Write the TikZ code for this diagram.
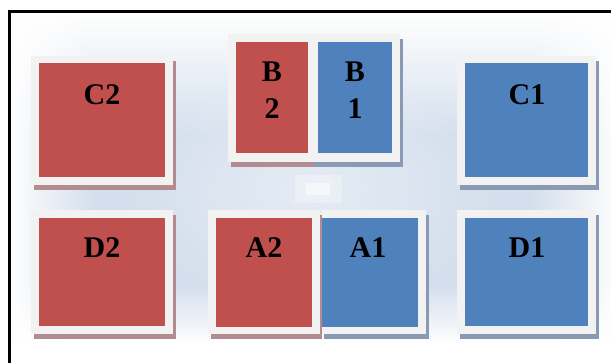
\documentclass[tikz,border=0pt]{standalone}
\usepackage{fontspec}
\setmainfont{Liberation Serif}
\usetikzlibrary{calc,positioning,fadings}

\definecolor{tilered}{RGB}{192,80,77}
\definecolor{tileblue}{RGB}{79,129,189}
\definecolor{padgray}{RGB}{242,242,242}
\definecolor{redshade}{RGB}{178,140,145}
\definecolor{blueshade}{RGB}{138,153,180}
\definecolor{haze}{RGB}{212,223,237}

\tikzfading[name=glow, inner color=transparent!60, outer color=transparent!100]

\tikzset{
  tag/.style={font=\bfseries\fontsize{30}{37}\selectfont, align=center, inner sep=0pt},
  pad/.style={fill=padgray},
}

\begin{document}
\begin{tikzpicture}[x=1pt,y=-1pt]
\useasboundingbox (0,0) rectangle (611,363);
% backdrop: pale blue in the middle, white towards the edges
\begin{scope}
\clip (9,12) rectangle (620,372);
\fill[haze] (9,12) rectangle (620,372);
\shade[top color=white, bottom color=haze] (9,12) rectangle (620,135);
\shade[top color=haze, bottom color=white] (9,285) rectangle (620,345);
\fill[white] (9,345) rectangle (620,372);
\fill[white, path fading=east] (9,12) rectangle (95,372);
\fill[white, path fading=west] (530,12) rectangle (620,372);
\fill[white, path fading=glow] (310,190) ellipse (190 and 120);
\fill[white,opacity=0.3] (295,175) rectangle (342,203);
\fill[white,opacity=0.5] (306,183) rectangle (330,195);
\end{scope}
\draw[line width=3pt] (9.5,12) rectangle (640,400);

% C2, top left
\fill[redshade] (34,61) rectangle (176,190);
\fill[pad] (31,56) rectangle (173,185);
\fill[tilered] (39,63) rectangle (165,177);
% C1, top right
\fill[blueshade] (460,61) rectangle (599,190);
\fill[pad] (457,56) rectangle (596,185);
\fill[tileblue] (465,63) rectangle (588,177);
% D2, bottom left
\fill[redshade] (34,215) rectangle (176,339);
\fill[pad] (31,210) rectangle (173,334);
\fill[tilered] (39,218) rectangle (165,326);
% D1, bottom right
\fill[blueshade] (460,215) rectangle (599,339);
\fill[pad] (457,210) rectangle (596,334);
\fill[tileblue] (465,218) rectangle (588,326);
% B pair, top middle
\fill[redshade] (231,39) rectangle (314,167);
\fill[blueshade] (314,39) rectangle (403,167);
\fill[pad] (228,34) rectangle (400,162);
\fill[tilered] (236,42) rectangle (308,153);
\fill[tileblue] (318,42) rectangle (392,153);
% A pair, bottom middle
\fill[blueshade] (324,215) rectangle (429,339);
\fill[pad] (321,210) rectangle (426,334);
\fill[redshade] (211,215) rectangle (322,339);
\fill[pad] (208,210) rectangle (320,334);
\fill[tilered] (216,218) rectangle (312,327);
\fill[tileblue] (322,218) rectangle (418,327);

% labels
\node[tag, anchor=base] (c2) at (102,105) {C2};
\node[tag, anchor=base] (c1) at (527,105) {C1};
\node[tag, anchor=base] (d2) at (102,258) {D2};
\node[tag, anchor=base] (d1) at (527,258) {D1};
\node[tag, anchor=base] (a2) at (264,258) {A2};
\node[tag, anchor=base] (a1) at (368,258) {A1};
\node[tag] (b2) at (272,90.5) {B\\2};
\node[tag] (b1) at (355,90.5) {B\\1};
\end{tikzpicture}
\end{document}
